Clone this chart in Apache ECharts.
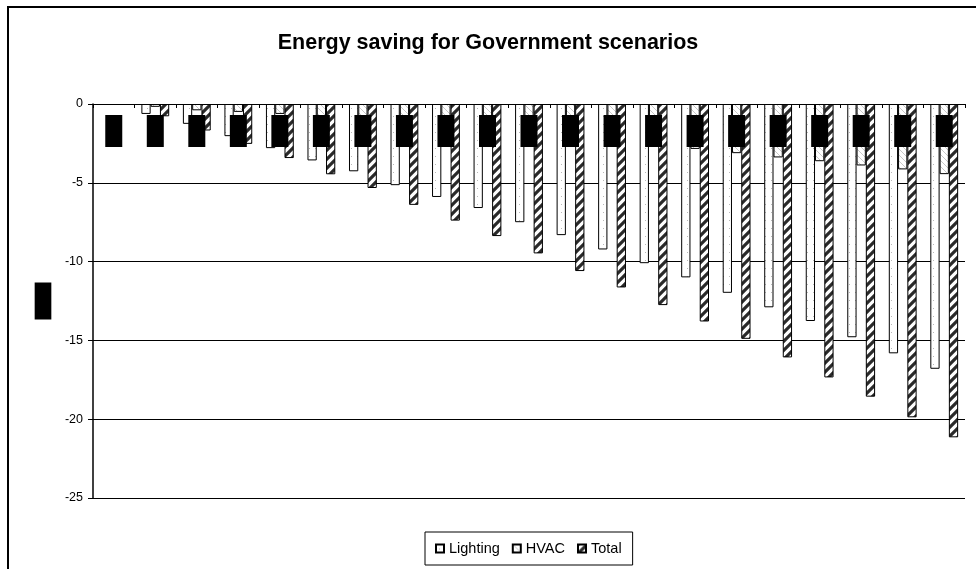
<!DOCTYPE html>
<html>
<head>
<meta charset="utf-8">
<script src="https://cdn.jsdelivr.net/npm/echarts@6/dist/echarts.min.js"></script>
<style>
  html, body { margin: 0; padding: 0; background: #fff; }
  #wrap { position: relative; width: 976px; height: 569px; overflow: hidden; }
  #chart { position: absolute; left: 0; top: 0; width: 976px; height: 569px; }
  #frame { position: absolute; left: 7px; top: 6px; width: 1200px; height: 800px;
           border-left: 2px solid #000; border-top: 2px solid #000; pointer-events: none; }
</style>
</head>
<body>
<div id="wrap">
  <div id="chart"></div>
  <div id="frame"></div>
</div>
<script>
// ---- data ----
const categories = ['0','1','2','3','4','5','6','7','8','9','10','11','12','13','14','15','16','17','18','19','20'];
const lighting = [0, -0.63, -1.26, -2.04, -2.8, -3.58, -4.27, -5.15, -5.9, -6.6, -7.5, -8.32, -9.23, -10.1, -11.0, -11.98, -12.9, -13.77, -14.8, -15.82, -16.8];
const hvac     = [0, -0.18, -0.4, -0.5, -0.63, -0.88, -1.06, -1.25, -1.5, -1.78, -1.98, -2.28, -2.42, -2.72, -2.85, -3.12, -3.39, -3.63, -3.9, -4.15, -4.45];
const total    = [0, -0.78, -1.68, -2.53, -3.43, -4.46, -5.33, -6.4, -7.4, -8.38, -9.48, -10.6, -11.64, -12.76, -13.8, -14.9, -16.08, -17.35, -18.57, -19.88, -21.15];
const seriesNames = ['Lighting', 'HVAC', 'Total'];
const chartTitle = 'Energy saving for Government scenarios';
const yAxisTitle = '%';

// ---- patterns ----
function makeTile(w, h, draw) {
  const c = document.createElement('canvas');
  c.width = w; c.height = h;
  const ctx = c.getContext('2d');
  ctx.fillStyle = '#fff';
  ctx.fillRect(0, 0, w, h);
  draw(ctx, w, h);
  return { image: c, repeat: 'repeat' };
}
const dotFill = makeTile(6, 8, (ctx) => {
  ctx.fillStyle = '#b8b8b8';
  ctx.fillRect(3, 4, 1, 1);
});
const lightHatch = makeTile(6, 6, (ctx, s) => {
  ctx.strokeStyle = '#c8c8c8';
  ctx.lineWidth = 1;
  ctx.beginPath();
  ctx.moveTo(0, 0); ctx.lineTo(s, s);
  ctx.moveTo(-1, s - 1); ctx.lineTo(1, s + 1);
  ctx.moveTo(s - 1, -1); ctx.lineTo(s + 1, 1);
  ctx.stroke();
});
const boldHatch = makeTile(9, 9, (ctx, s) => {
  ctx.strokeStyle = '#2a2a2a';
  ctx.lineWidth = 3.2;
  ctx.beginPath();
  ctx.moveTo(0, s); ctx.lineTo(s, 0);
  ctx.moveTo(-2, 2); ctx.lineTo(2, -2);
  ctx.moveTo(s - 2, s + 2); ctx.lineTo(s + 2, s - 2);
  ctx.stroke();
});

const chart = echarts.init(document.getElementById('chart'), null, { renderer: 'canvas' });
const fills = [dotFill, lightHatch, boldHatch];
const datasets = [lighting, hvac, total];

// zero-height bars get no outline (nothing visible in the reference)
function toItems(arr) {
  return arr.map(v => v === 0 ? { value: v, itemStyle: { borderWidth: 0 } } : v);
}

chart.setOption({
  animation: false,
  backgroundColor: '#fff',
  title: {
    text: chartTitle,
    left: 'center',
    top: 27,
    textStyle: { fontFamily: 'Liberation Sans, Arial, sans-serif', fontSize: 21.5, fontWeight: 'bold', color: '#000' }
  },
  legend: {
    data: seriesNames,
    left: 425,
    top: 532,
    orient: 'horizontal',
    padding: [9, 11, 9, 10],
    borderColor: '#000',
    borderWidth: 1,
    itemWidth: 8,
    itemHeight: 8,
    itemGap: 12,
    icon: 'rect',
    textStyle: { fontFamily: 'Liberation Sans, Arial, sans-serif', fontSize: 14.5, color: '#000' }
  },
  grid: { left: 93, top: 104, right: 11, bottom: 71, containLabel: false },
  xAxis: {
    type: 'category',
    data: categories,
    position: 'top',
    z: 10,
    axisLine: { show: true, lineStyle: { color: '#000', width: 1 } },
    axisTick: { show: true, inside: true, length: 4, interval: 0, alignWithLabel: false, lineStyle: { color: '#000' } },
    axisLabel: {
      show: true,
      inside: true,
      margin: 11,
      interval: 0,
      color: '#000',
      backgroundColor: '#000',
      width: 17,
      height: 32,
      align: 'center',
      fontSize: 10,
      fontFamily: 'Liberation Sans, Arial, sans-serif'
    },
    splitLine: { show: false }
  },
  yAxis: {
    type: 'value',
    min: -25,
    max: 0,
    interval: 5,
    name: yAxisTitle,
    nameLocation: 'middle',
    nameRotate: 0,
    nameGap: 50,
    nameTextStyle: { color: '#000', backgroundColor: '#000', fontSize: 12, lineHeight: 12, padding: [12, 3, 13, 3], align: 'center' },
    axisLine: { show: true, lineStyle: { color: '#000', width: 1.5 } },
    axisTick: { show: true, inside: false, length: 5, lineStyle: { color: '#000' } },
    axisLabel: { margin: 10, color: '#000', fontSize: 12.5, fontFamily: 'Liberation Sans, Arial, sans-serif' },
    splitLine: { show: true, lineStyle: { color: '#000', width: 1 } }
  },
  series: seriesNames.map((name, i) => ({
    name: name,
    type: 'bar',
    data: toItems(datasets[i]),
    barGap: '0%',
    barCategoryGap: '33%',
    itemStyle: { color: fills[i], borderColor: '#000', borderWidth: 1 },
    emphasis: { disabled: true }
  }))
});
</script>
</body>
</html>
